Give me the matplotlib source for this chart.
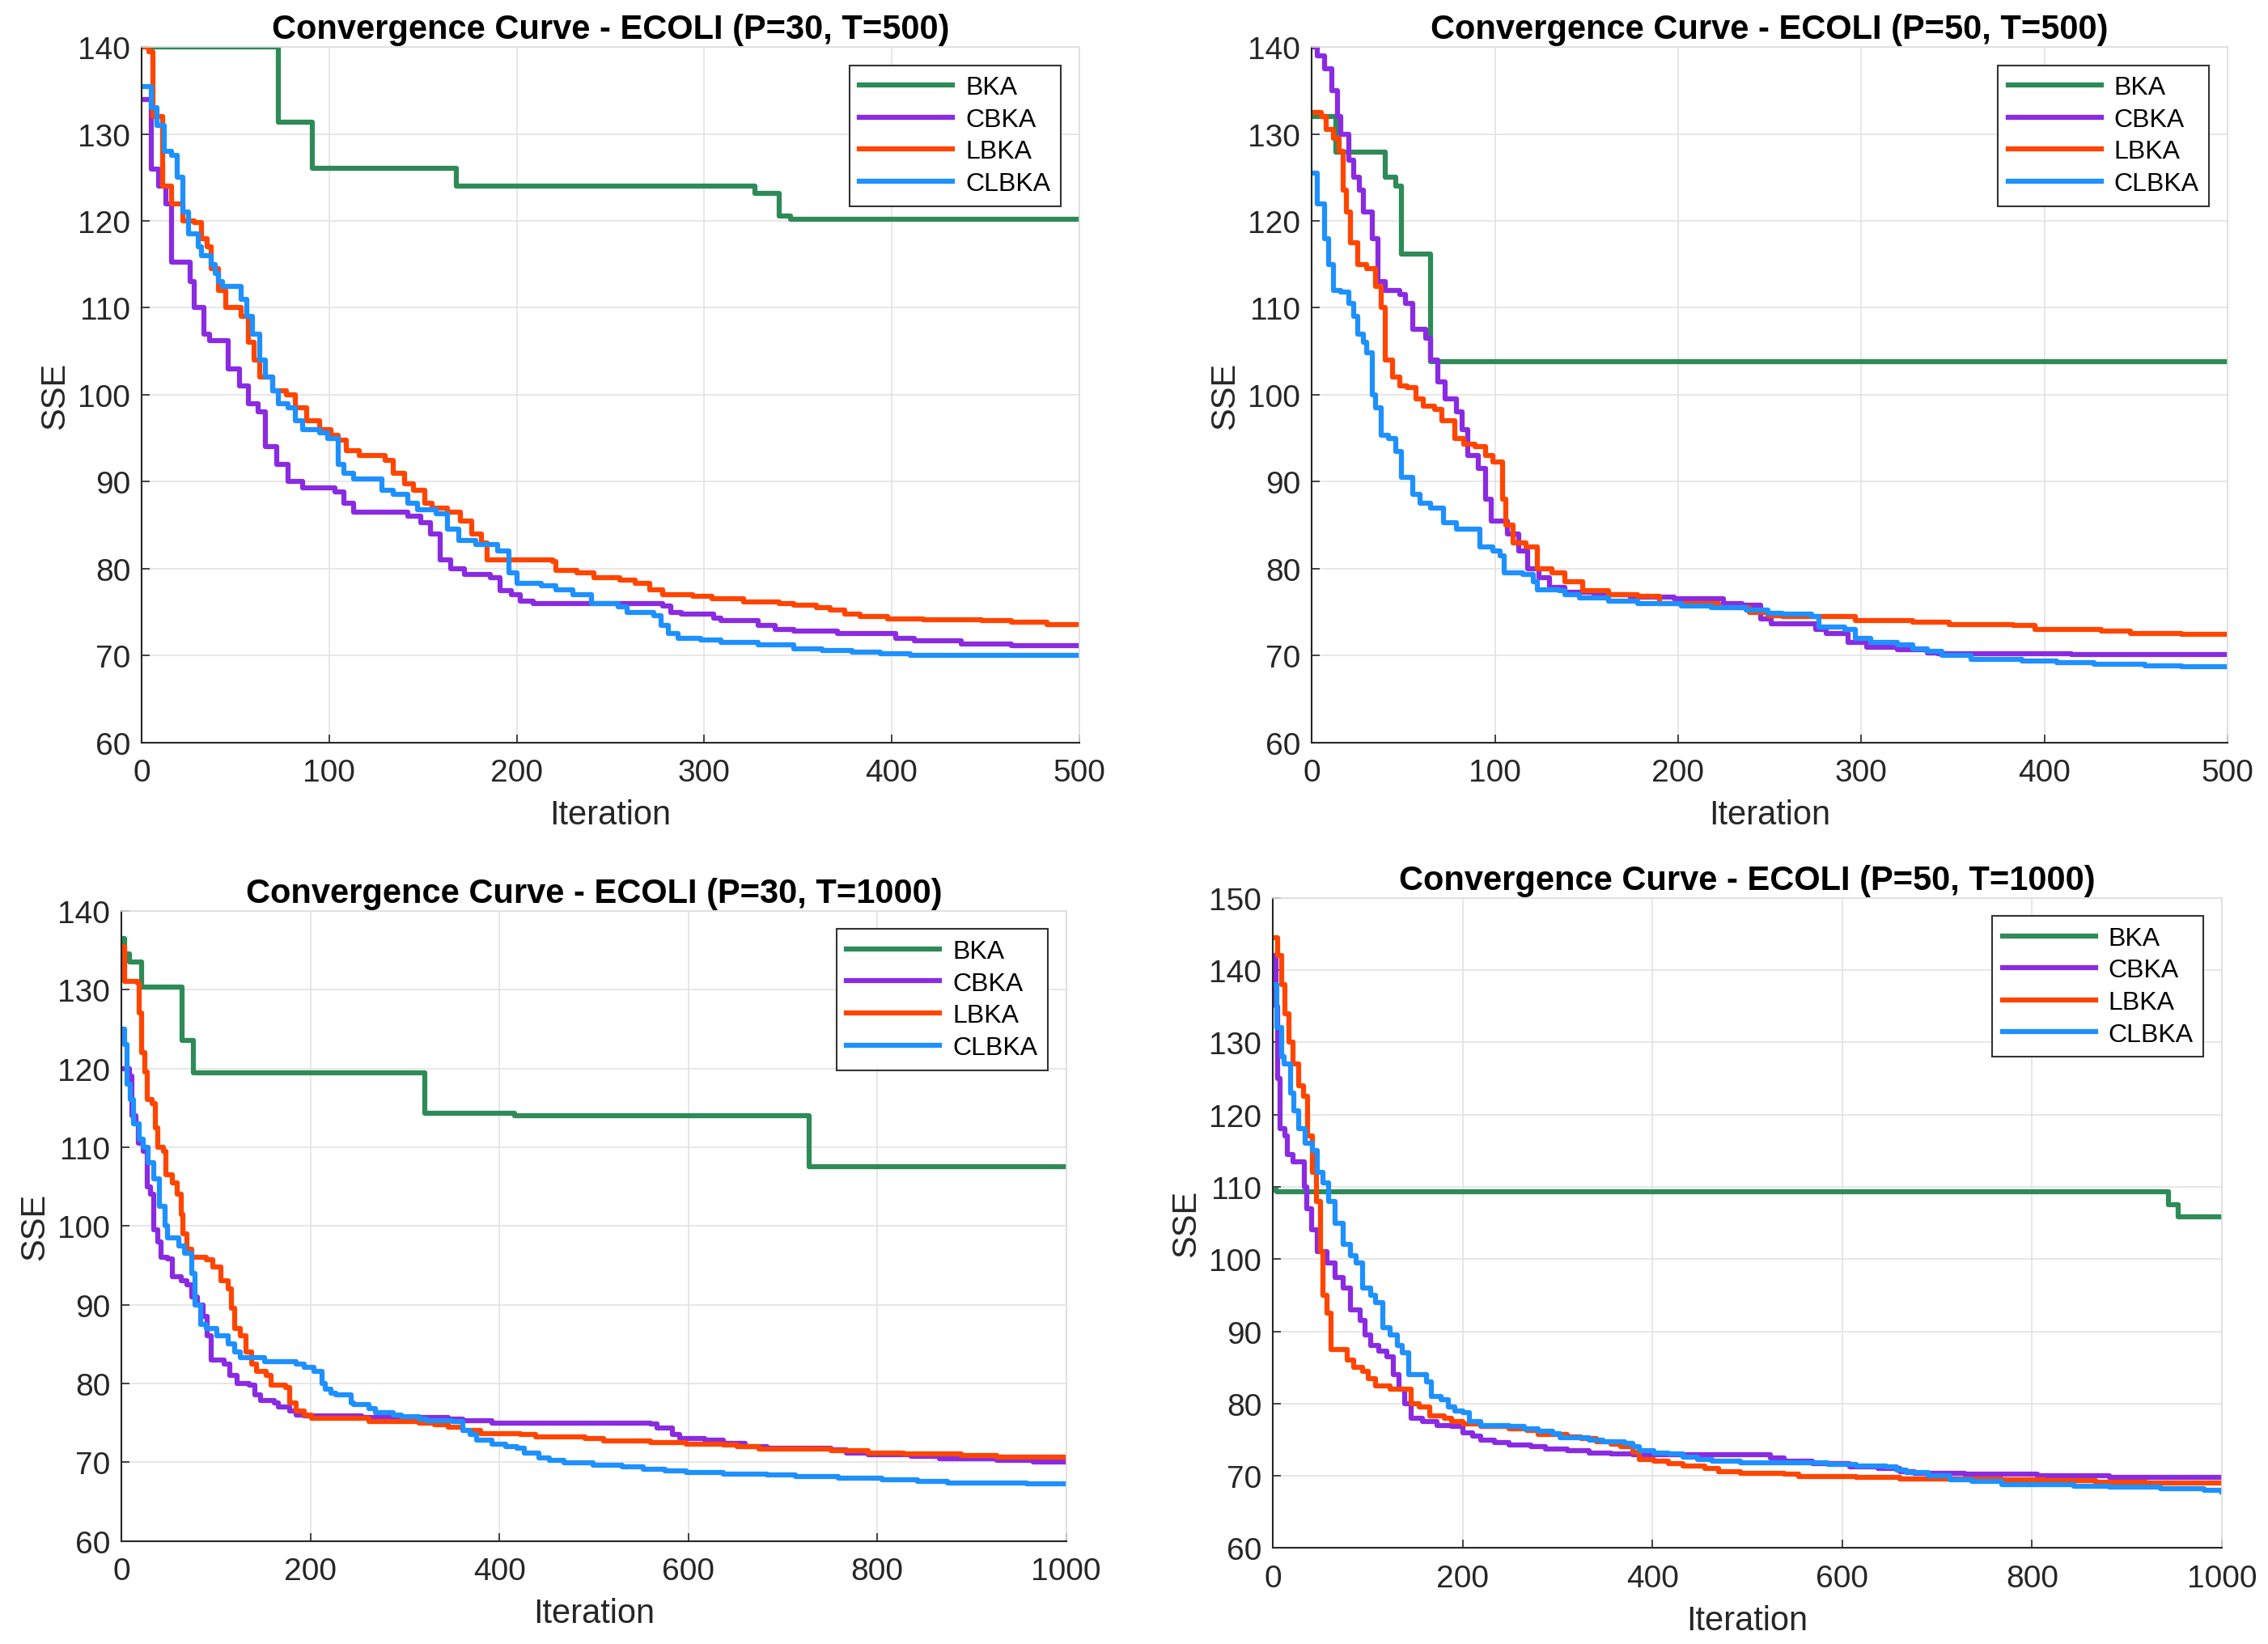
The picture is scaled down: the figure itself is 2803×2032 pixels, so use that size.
import matplotlib
matplotlib.use("Agg")
import matplotlib.pyplot as plt

# ---- P=30, T=500 ----
x_bka_1 = [0, 73, 91, 168, 327, 340, 346, 500]
y_bka_1 = [140, 131.4, 126.1, 124.0, 123.2, 120.6, 120.2, 120.2]
x_cbka_1 = [0, 5, 9, 13, 16, 26, 28, 33, 36, 46, 52, 57, 62, 66, 72, 78, 86, 103, 108, 113, 142, 149, 154, 159, 165, 172, 186, 191,
            197, 202, 209, 278, 282, 288, 305, 309, 329, 338, 348, 371, 402, 412, 437, 464, 491, 500]
y_cbka_1 = [134, 126, 124, 122, 115.3, 113, 110, 107, 106.2, 103, 101, 99, 98, 94, 92, 90, 89.3, 88.8, 87.5, 86.5, 86, 85.3, 84, 81, 80, 79.3, 79, 77.5,
            77, 76.3, 76, 75.7, 75, 74.8, 74.3, 74, 73.5, 73, 72.8, 72.5, 72, 71.7, 71.3, 71.1, 71.1, 71.1]
x_lbka_1 = [0, 4, 6, 11, 16, 22, 28, 32, 35, 37, 41, 45, 53, 57, 60, 63, 70, 77, 82, 88, 95, 101, 105, 109, 116, 130, 134, 140, 145, 151, 155,
            163, 170, 176, 181, 184, 219, 221, 232, 241, 255, 263, 271, 278, 294, 304, 321, 340, 348, 360, 367, 375, 383, 398, 417, 448, 464, 483, 500]
y_lbka_1 = [140, 139.5, 132, 124, 122, 120, 119.8, 118, 117, 114.5, 112, 110, 109, 106, 104, 102, 100.5, 100, 98.5, 97, 96, 95.3, 94.8, 93.6, 93, 92.5, 91, 89.8, 89, 87.5, 87,
            86.5, 85.5, 84, 83, 81, 80.8, 79.8, 79.5, 79, 78.7, 78.3, 77.6, 77, 76.8, 76.5, 76.2, 76, 75.8, 75.5, 75.2, 74.8, 74.5, 74.2, 74.1, 74, 73.8, 73.6, 73.6]
x_clbka_1 = [0, 5, 8, 12, 16, 19, 22, 25, 30, 32, 37, 39, 41, 43, 53, 56, 59, 63, 66, 70, 73, 78, 82, 86, 95, 99, 105, 108, 113, 128, 134,
             142, 147, 157, 163, 169, 178, 190, 196, 200, 213, 221, 230, 240, 254, 259, 273, 277, 281, 286, 298, 309, 329, 348, 363, 379, 394, 410, 425, 500]
y_clbka_1 = [135.5, 133, 131, 128, 127.5, 125, 121, 118.5, 117, 116, 115, 114, 113, 112.5, 111, 109, 107, 104, 102, 100.5, 99, 98.5, 97, 96, 95.6, 95, 92, 91, 90.3, 89, 88.5,
             87.5, 86.8, 86.3, 84.5, 83.2, 82.8, 82, 79.5, 78.3, 78, 77.6, 77, 76, 75.6, 75, 74.6, 73.5, 72.5, 72, 71.8, 71.5, 71.2, 70.8, 70.6, 70.4, 70.2, 70.05, 70, 70]

# ---- P=50, T=500 ----
x_bka_2 = [0, 13, 40, 46, 49, 65, 500]
y_bka_2 = [132, 127.9, 125, 124, 116.2, 103.8, 103.8]
x_cbka_2 = [0, 3, 7, 11, 14, 16, 20, 23, 26, 28, 33, 36, 40, 48, 51, 55, 62, 65, 69, 73, 79, 82, 85, 91, 95, 98, 107, 113, 118, 124, 130, 138,
            154, 174, 198, 225, 235, 245, 251, 259, 275, 281, 293, 303, 320, 336, 342, 415, 455, 500]
y_cbka_2 = [140, 139, 137.5, 135, 132, 130, 127, 125, 123.5, 121, 118, 113, 112, 111.5, 110.5, 107.5, 106.5, 104, 101.5, 99.5, 98, 96, 93, 91.5, 88, 85.5, 84, 82, 80, 79, 77.8,
            77.3, 77, 76.7, 76.5, 76, 75.8, 74.2, 73.7, 73.7, 73, 72.5, 71.5, 71, 70.7, 70.3, 70.2, 70.1, 70.1, 70.1]
x_lbka_2 = [0, 5, 8, 12, 15, 17, 19, 21, 25, 30, 35, 38, 40, 44, 48, 52, 57, 61, 67, 71, 78, 83, 89, 95, 99, 104, 106, 110, 117, 123, 131, 138,
            148, 162, 178, 190, 222, 239, 249, 257, 297, 328, 348, 383, 395, 431, 447, 475, 500]
y_lbka_2 = [132.5, 132, 130.5, 129.5, 128, 123.5, 121, 117.5, 115, 114.5, 112.5, 110, 104, 102, 101, 100.8, 99.5, 98.7, 98.3, 97, 95, 94.3, 94, 93, 92.3, 88, 85, 83, 82.5, 80, 79.5, 78.5,
            77.5, 77, 76.8, 76, 75.5, 75, 74.6, 74.5, 74, 73.8, 73.6, 73.5, 73, 72.8, 72.5, 72.4, 72.4]
x_clbka_2 = [0, 3, 7, 9, 12, 16, 20, 23, 25, 28, 30, 33, 35, 38, 42, 46, 49, 55, 59, 65, 72, 79, 92, 99, 103, 105, 115, 121, 123, 135, 138, 146,
             162, 178, 202, 218, 237, 249, 257, 273, 277, 291, 297, 305, 320, 328, 336, 344, 360, 388, 407, 427, 455, 475, 500]
y_clbka_2 = [125.5, 122, 118, 115, 112, 111.8, 110.5, 109, 107, 106, 104.8, 100, 98.5, 95.3, 95, 93.5, 90.5, 88.5, 87.5, 87, 85.3, 84.5, 82.5, 82, 81.5, 79.5, 79.3, 78.5, 77.6, 77.5, 77, 76.6,
             76.3, 76, 75.7, 75.5, 75.2, 74.9, 74.8, 74.5, 73.3, 73, 72, 71.5, 71.2, 70.8, 70.5, 70, 69.6, 69.4, 69.2, 69, 68.8, 68.7, 68.7]

# ---- P=30, T=1000 ----
x_bka_3 = [0, 3, 8, 21, 64, 76, 321, 416, 728, 1000]
y_bka_3 = [136.5, 134.5, 133.5, 130.3, 123.5, 119.4, 114.3, 114.0, 107.5, 107.5]
x_cbka_3 = [0, 8, 11, 15, 18, 23, 27, 31, 34, 38, 42, 49, 54, 63, 69, 74, 80, 86, 91, 95, 109, 115, 122, 135, 141, 147, 162, 166, 178, 185, 193,
            254, 346, 361, 392, 560, 567, 583, 591, 617, 637, 660, 683, 751, 767, 790, 836, 866, 927, 965, 1000]
y_cbka_3 = [120, 119, 114, 113, 110.5, 109.5, 105, 104, 99.5, 98, 96, 95.8, 93.5, 93, 92.5, 91, 90, 88.5, 86, 83, 82.5, 81, 80, 79.8, 78.5, 77.8, 77.5, 77, 76.5, 76, 75.9,
            75.7, 75.5, 75.3, 75, 74.8, 74.3, 73.5, 73, 72.8, 72.4, 72, 71.8, 71.6, 71.2, 70.9, 70.7, 70.4, 70.2, 70, 70]
x_lbka_3 = [0, 3, 17, 19, 21, 25, 27, 32, 36, 38, 44, 47, 54, 59, 63, 65, 69, 74, 90, 97, 105, 113, 116, 120, 126, 132, 138, 143, 153, 158, 174,
            178, 185, 193, 201, 262, 315, 331, 346, 361, 380, 422, 438, 491, 510, 560, 598, 637, 652, 675, 751, 790, 828, 889, 927, 1000]
y_lbka_3 = [135.5, 131, 130.8, 127, 122, 119.5, 116, 115.5, 112.5, 110, 109.5, 106.5, 105.5, 104, 101.5, 99, 97, 96, 95.7, 94.8, 93, 92, 89.5, 87, 86, 84, 82.5, 81.5, 81, 79.8, 79.5,
            77.5, 76.5, 76, 75.6, 75.2, 75, 74.7, 74.4, 74, 73.6, 73.5, 73.2, 73, 72.7, 72.5, 72.3, 72.2, 72, 71.7, 71.5, 71.2, 71, 70.8, 70.6, 70.6]
x_clbka_3 = [0, 3, 6, 9, 13, 19, 23, 28, 34, 40, 46, 49, 61, 67, 74, 78, 84, 90, 101, 113, 120, 126, 132, 151, 155, 185, 193, 204, 212, 216, 222,
             227, 243, 246, 262, 269, 288, 296, 315, 323, 350, 361, 369, 376, 392, 407, 419, 426, 442, 453, 468, 499, 530, 552, 575, 598, 637, 683,
             713, 759, 805, 843, 874, 912, 958, 1000]
y_clbka_3 = [125, 123, 118, 116, 113, 111, 110, 108, 106, 102.5, 100, 98.5, 97.5, 96.5, 94, 90, 87.5, 87, 86, 85, 84, 83.3, 83.3, 82.8, 82.8, 82.5, 82, 81.5, 80, 79.3, 78.8,
             78.5, 77.5, 77.3, 76.8, 76.3, 76, 75.8, 75.5, 75.3, 75.2, 74, 73.5, 72.8, 72.3, 72, 71.8, 71.2, 70.5, 70.2, 69.9, 69.6, 69.4, 69.1, 68.9, 68.7, 68.5, 68.4,
             68.2, 68, 67.8, 67.6, 67.4, 67.3, 67.2, 67.2]

# ---- P=50, T=1000 ----
x_bka_4 = [0, 4, 944, 950, 954, 1000]
y_bka_4 = [109.5, 109.3, 107.5, 107.5, 105.9, 105.9]
x_cbka_4 = [0, 3, 5, 8, 13, 15, 21, 33, 36, 41, 47, 57, 66, 74, 82, 92, 97, 103, 112, 120, 127, 133, 139, 146, 158, 173, 188, 200, 211, 219,
            234, 249, 272, 287, 310, 333, 356, 379, 524, 539, 569, 608, 638, 661, 676, 729, 806, 882, 1000]
y_cbka_4 = [142, 135, 125, 118, 117, 114.5, 113.5, 110, 107, 104, 101, 99.5, 97.5, 96, 93, 91.5, 89.5, 88, 87.3, 86.5, 84, 82, 80, 78, 77.5, 77, 76.8, 76, 75.5, 75,
            74.6, 74.3, 74, 73.7, 73.5, 73.2, 73, 72.9, 72.5, 72, 71.7, 71.3, 71, 70.6, 70.3, 70.2, 70, 69.8, 69.8]
x_lbka_4 = [0, 5, 9, 13, 17, 21, 27, 32, 37, 42, 46, 50, 53, 57, 61, 78, 85, 95, 101, 108, 124, 146, 154, 165, 181, 188, 200, 219, 249, 268, 280,
            310, 325, 341, 356, 367, 379, 386, 402, 417, 432, 455, 470, 493, 539, 554, 615, 661, 768, 813, 867, 920, 1000]
y_lbka_4 = [144.5, 142, 138, 134, 130, 127, 124, 122.5, 117, 112, 108, 101, 95, 92.5, 87.5, 86, 85, 84.5, 83.5, 82.5, 82, 80, 79.5, 78.3, 78, 77.5, 77.2, 76.8, 76.5, 76.3, 75.7,
            75.4, 75.2, 74.7, 74.4, 74, 73.3, 72.3, 72, 71.7, 71.4, 71, 70.6, 70.3, 70.2, 69.9, 69.8, 69.6, 69.5, 69.3, 69.1, 69, 69]
x_clbka_4 = [0, 4, 9, 12, 19, 22, 27, 34, 42, 47, 53, 59, 66, 74, 82, 88, 95, 103, 108, 116, 124, 131, 136, 143, 162, 167, 177, 185, 192, 200,
             207, 219, 249, 265, 280, 295, 303, 333, 348, 371, 379, 386, 402, 417, 432, 448, 463, 493, 585, 615, 646, 657, 668, 691, 714, 737, 768,
             844, 882, 935, 981, 1000]
y_clbka_4 = [138, 132, 128, 127, 123, 120.5, 118, 116, 115, 112, 110.5, 108, 105, 102, 100.5, 99.5, 96, 95, 94, 90.5, 89.5, 88, 87, 84, 83, 81, 80.5, 79.5, 79, 78.7,
             77.5, 77, 76.8, 76.5, 76.2, 75.8, 75.3, 75, 74.7, 74.5, 74, 73.5, 73.2, 73, 72.6, 72.3, 72, 71.8, 71.6, 71.4, 71.3, 70.8, 70.5, 70, 69.5, 69.2, 68.8,
             68.6, 68.4, 68.2, 68, 67.8]

names = ["BKA", "CBKA", "LBKA", "CLBKA"]
colors = ["#2e8b57", "#8a2be2", "#ff4500", "#1e90ff"]

panels = [
    ("Convergence Curve - ECOLI (P=30, T=500)", 500, (60, 140),
     [(x_bka_1, y_bka_1), (x_cbka_1, y_cbka_1), (x_lbka_1, y_lbka_1), (x_clbka_1, y_clbka_1)],
     [0.0625, 0.5481, 0.4133, 0.4228]),
    ("Convergence Curve - ECOLI (P=50, T=500)", 500, (60, 140),
     [(x_bka_2, y_bka_2), (x_cbka_2, y_cbka_2), (x_lbka_2, y_lbka_2), (x_clbka_2, y_clbka_2)],
     [0.5784, 0.5481, 0.4037, 0.4228]),
    ("Convergence Curve - ECOLI (P=30, T=1000)", 1000, (60, 140),
     [(x_bka_3, y_bka_3), (x_cbka_3, y_cbka_3), (x_lbka_3, y_lbka_3), (x_clbka_3, y_clbka_3)],
     [0.0536, 0.0627, 0.4165, 0.3830]),
    ("Convergence Curve - ECOLI (P=50, T=1000)", 1000, (60, 150),
     [(x_bka_4, y_bka_4), (x_cbka_4, y_cbka_4), (x_lbka_4, y_lbka_4), (x_clbka_4, y_clbka_4)],
     [0.5612, 0.0583, 0.4184, 0.3954]),
]

plt.rcParams['font.family'] = ['Liberation Sans', 'DejaVu Sans']

fig = plt.figure(figsize=(28.03, 20.33), dpi=100)

for title, T, ylim, curves, pos in panels:
    ax = fig.add_axes(pos)
    for (xs, ys), name, c in zip(curves, names, colors):
        ax.plot(xs, ys, drawstyle='steps-post', color=c, lw=4.5, label=name)
    ax.set_xlim(0, T)
    ax.set_ylim(*ylim)
    ax.set_yticks(range(ylim[0], ylim[1] + 1, 10))
    ax.set_xticks(range(0, T + 1, T // 5))
    ax.grid(True, color='#e3e3e3', lw=1.2)
    ax.set_axisbelow(True)
    for s in ['left', 'bottom']:
        ax.spines[s].set_color('#262626')
        ax.spines[s].set_linewidth(1.5)
    for s in ['top', 'right']:
        ax.spines[s].set_color('#dddddd')
        ax.spines[s].set_linewidth(1.2)
    ax.tick_params(direction='in', length=7, width=1.2, labelsize=28, colors='#262626', pad=10)
    ax.tick_params(axis='x', pad=14)
    ax.set_title(title, fontsize=30, fontweight='bold', pad=8)
    ax.set_xlabel("Iteration", fontsize=30, color='#262626', labelpad=10)
    ax.set_ylabel("SSE", fontsize=30, color='#262626', labelpad=6)
    leg = ax.legend(loc='upper right', fontsize=23, fancybox=False, framealpha=1,
                    edgecolor='#333333', handlelength=3.6, borderaxespad=0.7,
                    labelspacing=0.3, borderpad=0.4, handletextpad=0.5)
    leg.get_frame().set_linewidth(1.5)

fig.savefig("out.png", dpi=100)
